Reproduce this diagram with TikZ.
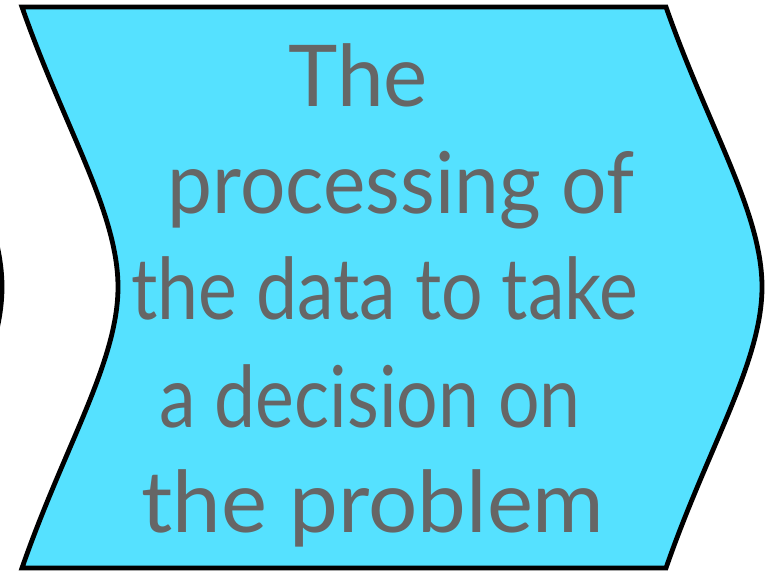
\documentclass[tikz,border=0pt]{standalone}
\usepackage{fontspec}
\setmainfont{Lato}
\definecolor{stagefill}{RGB}{85,225,255}
\definecolor{stagetext}{RGB}{102,102,102}

\begin{document}
\begin{tikzpicture}[x=0.75pt,y=-0.75pt,
		stage/.style={draw=black,line width=3.6pt,fill=stagefill,line join=miter},
		linetext/.style={anchor=base,inner sep=0pt,text=stagetext,font=\fontsize{64}{76}\selectfont}]
		\useasboundingbox (0,0) rectangle (768,572);

		% edge of the previous stage
		\draw[line width=3.6pt] (-94,7) .. controls (-52,127) and (2,212) .. (2,287) .. controls (2,362) and (-52,447) .. (-94,568);

		% the stage itself
		\draw[stage] (22,7) -- (666,7) .. controls (708,127) and (762,212) .. (762,287) .. controls (762,362) and (708,447) .. (666,568)
			-- (22,568) .. controls (64,447) and (118,362) .. (118,287) .. controls (118,212) and (64,127) .. cycle;

		\node[linetext]	(l1)	at (358,106)	{\scalebox{0.98}[1]{The}};
		\node[linetext]	(l2)	at (401,213)	{\scalebox{0.94}[1]{processing of}};
		\node[linetext]	(l3)	at (385,319)	{\scalebox{0.86}[1]{the data to take}};
		\node[linetext]	(l4)	at (370,427)	{\scalebox{0.86}[1]{a decision on}};
		\node[linetext]	(l5)	at (373,532)	{\scalebox{1.02}[1]{the problem}};
	\end{tikzpicture}
\end{document}
